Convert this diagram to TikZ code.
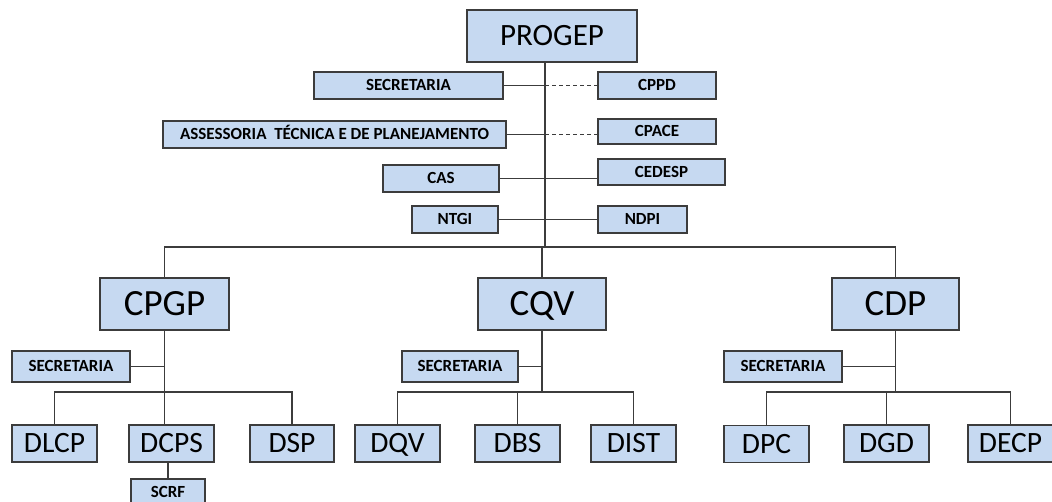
\documentclass[tikz,border=0pt]{standalone}
\usepackage{fontspec}
\setmainfont{Carlito}
\definecolor{boxfill}{RGB}{198,217,241}
\definecolor{boxline}{RGB}{60,60,60}
\newcommand\myfsz[1]{\fontsize{#1}{#1}\selectfont}
\tikzset{
  box/.style={draw=boxline, fill=boxfill, line width=1.5pt, inner sep=0pt, anchor=center, text depth=0pt},
  big/.style={box, minimum width=128pt, minimum height=52pt, font=\myfsz{37}, text height=23.3pt},
  leaf/.style={box, minimum width=85pt, minimum height=37pt, font=\myfsz{29.5}, text height=18.6pt},
  small/.style={box, minimum height=27pt, font=\myfsz{17}\bfseries, text height=10.7pt},
  conn/.style={draw=boxline, line width=1.5pt},
  dconn/.style={conn, dash pattern=on 4pt off 3pt}
}
\begin{document}
\begin{tikzpicture}[x=1pt,y=-1pt]
\useasboundingbox[fill=white] (0,0) rectangle (1052,502);
% top
\node[box, minimum width=170pt, minimum height=52pt, font=\myfsz{31}, text height=19.5pt] (progep) at (552,36) {PROGEP};
\node[small, minimum width=189pt] (sec0) at (408.5,85.5) {SECRETARIA};
\node[small, minimum width=118pt] (cppd) at (657,85.5) {CPPD};
\node[small, minimum width=343pt] (assess) at (334.5,134.5) {ASSESSORIA\ \ TÉCNICA E DE PLANEJAMENTO};
\node[small, minimum width=118pt, minimum height=25pt] (cpace) at (657,131.5) {CPACE};
\node[small, minimum width=116pt] (cas) at (441,178.5) {CAS};
\node[small, minimum width=127pt, minimum height=26pt] (cedesp) at (661.5,172) {CEDESP};
\node[small, minimum width=86pt] (ntgi) at (455,219.5) {NTGI};
\node[small, minimum width=89pt] (ndpi) at (642.5,219.5) {NDPI};
\coordinate (trunktop) at (545,62);
\coordinate (trunkbot) at (545,247);
% level 2
\node[big, minimum width=129pt] (cpgp) at (164.5,304) {CPGP};
\node[big] (cqv) at (542,304) {CQV};
\node[big, minimum width=127pt] (cdp) at (895.5,304) {CDP};
% left group
\node[small, minimum width=118pt, minimum height=31pt] (secL) at (71,366.5) {SECRETARIA};
\node[leaf] (dlcp) at (54.5,443.5) {DLCP};
\node[leaf] (dcps) at (171.5,443.5) {DCPS};
\node[leaf, minimum width=84pt] (dsp) at (292,443.5) {DSP};
\node[small, minimum width=74pt] (scrf) at (168,492.5) {SCRF};
% middle group
\node[small, minimum width=116pt, minimum height=31pt] (secM) at (460,366.5) {SECRETARIA};
\node[leaf] (dqv) at (397.5,443.5) {DQV};
\node[leaf] (dbs) at (517.5,443.5) {DBS};
\node[leaf] (dist) at (633.5,443.5) {DIST};
% right group
\node[small, minimum width=118pt, minimum height=31pt] (secR) at (783,366.5) {SECRETARIA};
\node[leaf] (dpc) at (766.5,444) {DPC};
\node[leaf] (dgd) at (886.5,443.5) {DGD};
\node[leaf] (decp) at (1010.5,443.5) {DECP};
\coordinate (bus) at (0,392);
% top connectors
\draw[conn] (progep.south -| trunktop) -- (trunkbot);
\draw[conn] (sec0.east) -- (sec0.east -| trunktop);
\draw[dconn] (sec0.east -| trunktop) -- (cppd.west |- sec0.east);
\draw[conn] (assess.east) -- (assess.east -| trunktop);
\draw[dconn] (assess.east -| trunktop) -- (cpace.west |- assess.east);
\draw[conn] (cas.east) -- (cas.east -| cedesp.west);
\draw[conn] (ntgi.east) -- (ndpi.west);
\draw[conn] (cpgp.north) -- (cpgp.north |- trunkbot) -- (cdp.north |- trunkbot) -- (cdp.north);
\draw[conn] (cqv.north) -- (cqv.north |- trunkbot);
% left group connectors
\draw[conn] (cpgp.south) -- (cpgp.south |- dcps.north);
\draw[conn] (secL.east) -- (secL.east -| cpgp.south);
\draw[conn] (dlcp.north) -- (dlcp.north |- bus) -- (dsp.north |- bus) -- (dsp.north);
\draw[conn] (scrf.north) -- (scrf.north |- dcps.south);
% middle group connectors
\draw[conn] (cqv.south) -- (cqv.south |- bus);
\draw[conn] (secM.east) -- (secM.east -| cqv.south);
\draw[conn] (dqv.north) -- (dqv.north |- bus) -- (dist.north |- bus) -- (dist.north);
\draw[conn] (dbs.north) -- (dbs.north |- bus);
% right group connectors
\draw[conn] (cdp.south) -- (cdp.south |- bus);
\draw[conn] (secR.east) -- (secR.east -| cdp.south);
\draw[conn] (dpc.north) -- (dpc.north |- bus) -- (decp.north |- bus) -- (decp.north);
\draw[conn] (dgd.north) -- (dgd.north |- bus);
\end{tikzpicture}
\end{document}
